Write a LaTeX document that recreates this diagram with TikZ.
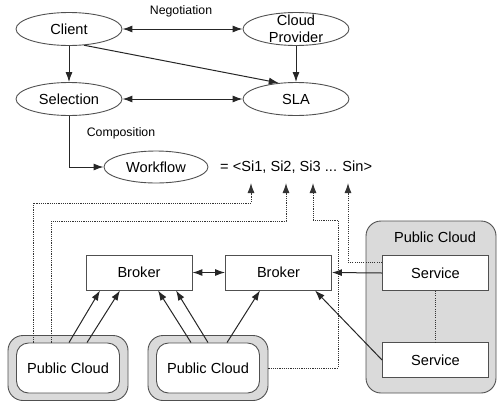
\documentclass[tikz,border=0pt]{standalone}
\usepackage{fontspec}
\setmainfont{Liberation Sans}
\usetikzlibrary{shapes.geometric,arrows.meta}
\definecolor{edge}{HTML}{505050}
\definecolor{cloudfill}{HTML}{DADADA}
\begin{document}
\begin{tikzpicture}[x=1pt,y=-1pt,
  mainfont/.style={font=\fontsize{14.6}{16.5}\selectfont},
  ell/.style={ellipse,draw=edge,line width=0.9pt,minimum width=106pt,minimum height=33pt,inner sep=0pt,mainfont},
  boxnode/.style={rectangle,draw=edge,fill=white,line width=0.9pt,minimum width=106pt,minimum height=35pt,inner sep=0pt,mainfont},
  cloudout/.style={rectangle,draw=edge,fill=cloudfill,line width=0.9pt,rounded corners=15pt,inner sep=0pt},
  cloudin/.style={rectangle,draw=edge,fill=white,line width=0.9pt,rounded corners=12pt,inner sep=0pt,mainfont},
  lbl/.style={font=\fontsize{12.3}{14}\selectfont,inner sep=0pt},
  arr/.style={line width=1pt,draw=black!85,-{Latex[length=10pt,width=7pt]}},
  darr/.style={line width=1pt,draw=black!85,{Latex[length=10pt,width=7pt]}-{Latex[length=10pt,width=7pt]}},
  dotline/.style={line width=1pt,draw=black!80,dash pattern=on 1.1pt off 1.1pt,-{Latex[length=10pt,width=7pt]}},
  dotplain/.style={line width=1pt,draw=black!80,dash pattern=on 1.1pt off 1.1pt}]
\useasboundingbox (0,0) rectangle (497,402);

% top graph
\node[ell] (client) at (69,29) {Client};
\node[ell,label={[mainfont,align=center,inner sep=0pt]center:Cloud\\Provider}] (cp) at (296,29) {};
\node[ell] (sel) at (69,99) {Selection};
\node[ell] (sla) at (296,99) {SLA};
\node[ell,minimum width=104pt,minimum height=32pt] (wf) at (156,167) {Workflow};
\node[mainfont,inner sep=0pt,anchor=west] (eq) at (220,167) {= <Si1, Si2, Si3 ... Sin>};
\node[lbl] (neg) at (181,11) {Negotiation};
\node[lbl] (comp) at (121,133) {Composition};

\draw[darr] (client) -- (cp);
\draw[darr] (sel) -- (sla);
\draw[arr] (client) -- (sel);
\draw[arr] (cp) -- (sla);
\draw[arr] (client.-47) -- (sla.137);
\draw[arr] (sel.south) |- (wf.west);

% right public cloud
\draw[draw=edge,fill=cloudfill,line width=0.9pt,rounded corners=15pt] (366,221) rectangle (496,393);
\node[mainfont,inner sep=0pt] (pcr) at (435,237) {Public Cloud};
\node[boxnode] (s1) at (435.5,273) {Service};
\node[boxnode] (s2) at (435.5,360) {Service};
\draw[dotplain] (s1) -- (s2);

% brokers
\node[boxnode] (br1) at (139,272.5) {Broker};
\node[boxnode] (br2) at (278.5,272.5) {Broker};
\draw[darr] (br1) -- (br2);

% bottom public clouds
\node[cloudout,minimum width=120pt,minimum height=65pt] (pc1o) at (68,368) {};
\node[cloudin,minimum width=103pt,minimum height=50pt] (pc1) at (68,368) {Public Cloud};
\node[cloudout,minimum width=120pt,minimum height=65pt] (pc2o) at (208,368) {};
\node[cloudin,minimum width=103pt,minimum height=50pt] (pc2) at (208,368) {Public Cloud};

% solid arrows to brokers
\draw[arr] ([xshift=1pt]pc1.north) -- ([xshift=-39pt]br1.south);
\draw[arr] ([xshift=19pt]pc1.north) -- ([xshift=-19pt]br1.south);
\draw[arr] ([xshift=-17pt]pc2.north) -- ([xshift=19pt]br1.south);
\draw[arr] ([xshift=0pt]pc2.north) -- ([xshift=37pt]br1.south);
\draw[arr] ([xshift=19pt]pc2.north) -- ([xshift=-18.5pt]br2.south);
\draw[arr] (s1.west) -- (br2.east);
\draw[arr] (s2.west) -- ([xshift=36.5pt]br2.south);

% dotted links to workflow terms
\coordinate (si1) at (251,183);
\coordinate (si2) at (286,183);
\coordinate (si3) at (313,183);
\coordinate (sin) at (348,183);
\coordinate (t1) at (251,203);
\coordinate (t2) at (286,221);
\coordinate (t3) at (338,220);
\draw[dotline] ([xshift=-35pt]pc1.north) |- (t1) -- (si1);
\draw[dotline] ([xshift=-17pt]pc1.north) |- (t2) -- (si2);
\draw[dotline] (pc2o.east) -| (t3) -| (si3);
\draw[dotline] ([yshift=11pt]s1.west) -| (sin);
\end{tikzpicture}
\end{document}
